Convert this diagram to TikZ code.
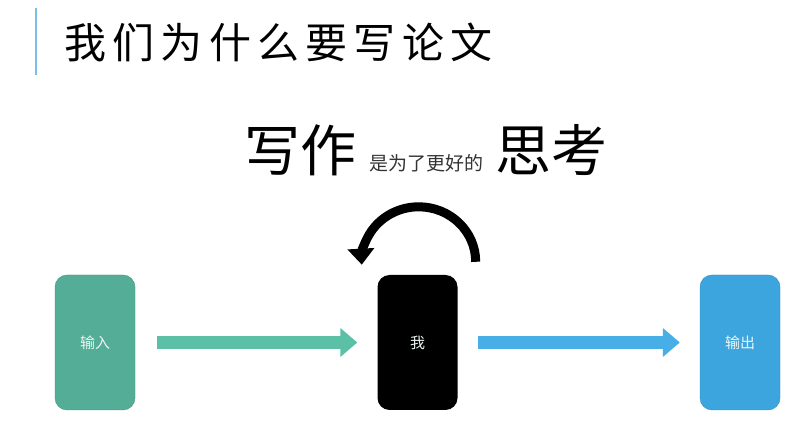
\documentclass[tikz,border=0pt]{standalone}
\usepackage{fontspec}
\usepackage{xcolor}
\usepackage{tikz}
\usetikzlibrary{calc,arrows.meta,positioning}
\newfontfamily\cjk{Noto Sans CJK SC}
\newfontfamily\cjkwide[LetterSpace=15]{Noto Sans CJK SC}
\definecolor{rule}{HTML}{7CC0E8}
\definecolor{teal}{HTML}{53AD97}
\definecolor{tealarrow}{HTML}{5CC0A6}
\definecolor{sky}{HTML}{3DA5DE}
\definecolor{skyarrow}{HTML}{47AFE6}
\definecolor{loop}{HTML}{404040}
\definecolor{boxtext}{HTML}{EEF4F2}
\tikzset{
  card/.style={rounded corners=12pt, minimum width=80pt, minimum height=135pt, inner sep=0pt, font=\cjk\fontsize{15}{15}\selectfont, text=boxtext},
  flow/.style={line width=13pt, -{Triangle[width=28pt, length=17pt]}},
  big/.style={font=\cjk\fontsize{56}{56}\selectfont, inner sep=0pt, anchor=base},
  small/.style={font=\cjk\fontsize{19}{19}\selectfont, inner sep=0pt, anchor=base, text=black!80},
}

\begin{document}
\begin{tikzpicture}[x=1pt, y=1pt]
  \useasboundingbox[fill=white] (0,0) rectangle (812,434);
  % title
  \draw[rule, line width=1.2pt] (36,426) -- (36,359);
  \node[font=\cjkwide\fontsize{42}{42}\selectfont, anchor=west, inner sep=0pt] (title) at (64,392) {我们为什么要写论文};
  % heading
  \node[big] (xie) at (300,262) {写作};
  \node[small] (why) at (426,263) {是为了更好的};
  \node[big] (think) at (551,262) {思考};
  % boxes
  \node[card, fill=teal, draw=teal!85!black] (in) at (95,91.5) {输入};
  \node[card, fill=black] (me) at (417.5,91.5) {我};
  \node[card, fill=sky, draw=sky!85!black] (out) at (740,91.5) {输出};
  % arrows
  \draw[flow, tealarrow] ($(in.east)+(22,0)$) -- ($(me.west)+(-20,0)$);
  \draw[flow, skyarrow] ($(me.east)+(20,0)$) -- ($(out.west)+(-20,0)$);
  \coordinate (loopstart) at ($(me.north east)+(18,13)$);
  \draw[loop, line width=9pt, -{Triangle[width=26pt, length=16pt]}] (loopstart) arc[start angle=0, end angle=183, x radius=57pt, y radius=55pt];
\end{tikzpicture}
\end{document}
